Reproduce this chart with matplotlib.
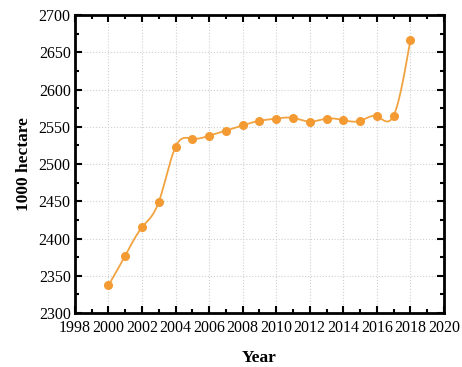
import numpy as np
import matplotlib.pyplot as plt
from matplotlib.ticker import MultipleLocator

years = [2000, 2001, 2002, 2003, 2004, 2005, 2006, 2007, 2008, 2009,
         2010, 2011, 2012, 2013, 2014, 2015, 2016, 2017, 2018]
area = [2337, 2377, 2415, 2449, 2523, 2534, 2538, 2545, 2552, 2558,
        2561, 2562, 2557, 2561, 2559, 2558, 2564, 2565, 2667]


def natural_spline(x, y, xs):
    # plain natural cubic spline, only used to draw the smooth connecting line
    x = np.asarray(x, float)
    y = np.asarray(y, float)
    n = len(x)
    h = np.diff(x)
    A = np.zeros((n, n))
    b = np.zeros(n)
    A[0, 0] = 1
    A[-1, -1] = 1
    for i in range(1, n - 1):
        A[i, i - 1] = h[i - 1]
        A[i, i] = 2 * (h[i - 1] + h[i])
        A[i, i + 1] = h[i]
        b[i] = 3 * ((y[i + 1] - y[i]) / h[i] - (y[i] - y[i - 1]) / h[i - 1])
    c = np.linalg.solve(A, b)
    idx = np.clip(np.searchsorted(x, xs) - 1, 0, n - 2)
    dx = xs - x[idx]
    bb = (y[idx + 1] - y[idx]) / h[idx] - h[idx] * (2 * c[idx] + c[idx + 1]) / 3
    d = (c[idx + 1] - c[idx]) / (3 * h[idx])
    return y[idx] + bb * dx + c[idx] * dx ** 2 + d * dx ** 3


plt.rcParams['font.family'] = ['Liberation Serif', 'DejaVu Serif']

fig = plt.figure(figsize=(4.62, 3.67), dpi=100)
ax = fig.add_axes([0.162, 0.147, 0.799, 0.812])

xs = np.linspace(years[0], years[-1], 600)
ax.plot(xs, natural_spline(years, area, xs), color='#F2A341', lw=1.3, zorder=2)
ax.plot(years, area, 'o', color='#F39A33', ms=5.5, zorder=3)

ax.set_xlim(1998, 2020)
ax.set_ylim(2300, 2700)
ax.xaxis.set_major_locator(MultipleLocator(2))
ax.xaxis.set_minor_locator(MultipleLocator(1))
ax.yaxis.set_major_locator(MultipleLocator(50))
ax.yaxis.set_minor_locator(MultipleLocator(25))

ax.grid(True, which='major', ls=':', color='#d0d0d0', lw=0.8)
ax.set_axisbelow(True)

for s in ax.spines.values():
    s.set_linewidth(2)
ax.tick_params(which='both', direction='in', top=True, right=True,
               width=1.5, labelsize=11.5)
ax.tick_params(axis='x', pad=5)
ax.tick_params(axis='y', pad=3)
ax.tick_params(which='major', length=5)
ax.tick_params(which='minor', length=3)

ax.set_xlabel('Year', fontsize=12.5, fontweight='bold', labelpad=10)
ax.set_ylabel('1000 hectare', fontsize=12.5, fontweight='bold', labelpad=5)

fig.savefig('out.png', dpi=100)
